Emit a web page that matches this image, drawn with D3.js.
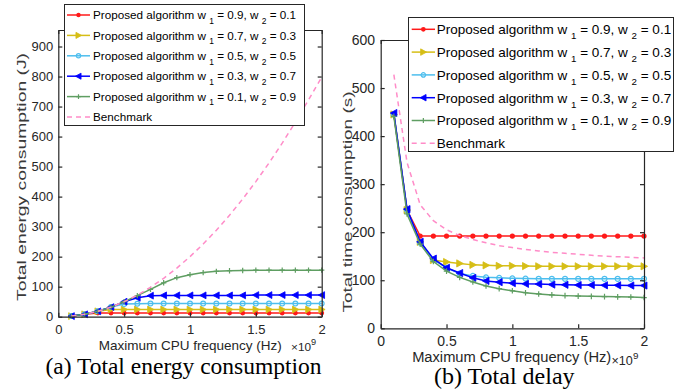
<!DOCTYPE html>
<html>
<head>
<meta charset="utf-8">
<script src="https://cdn.jsdelivr.net/npm/d3@7"></script>
<style>
  body { margin: 0; background: #fff; }
  svg { display: block; font-family: "Liberation Sans", Arial, Helvetica, sans-serif; }
  .axis path, .axis line { stroke: #262626; stroke-width: 1.2; }
  .axis text { fill: #262626; font-family: "Liberation Sans", Arial, sans-serif; }
</style>
</head>
<body>
<svg id="chart" width="694" height="391"></svg>
<script>
// CPU frequency (x 1e9 Hz)
const freq = [0.1, 0.2, 0.3, 0.4, 0.5, 0.6, 0.7, 0.8, 0.9, 1.0, 1.1, 1.2, 1.3, 1.4, 1.5, 1.6, 1.7, 1.8, 1.9, 2.0];

// (a) total energy consumption (J)
const energyW91 = [2, 8, 12, 12, 12, 12, 12, 12, 12, 12, 12, 12, 12, 12, 12, 12, 12, 12, 12, 12];
const energyW73 = [2, 8, 18, 24, 24, 24, 24, 24, 24, 24, 24, 24, 24, 24, 24, 24, 24, 24, 24, 24];
const energyW55 = [2, 8, 18, 32, 42, 43, 44, 44, 44, 44, 44, 44, 44, 44, 44, 44, 44, 44, 44, 44];
const energyW37 = [2, 8, 18, 32, 50, 63, 70, 71, 71, 71, 71, 71, 71, 71, 72, 72, 72, 72, 72, 72];
const energyW19 = [2, 8, 18, 32, 50, 70, 91, 113, 130, 140, 147, 151, 153, 154, 155, 155, 155, 155, 155, 155];
const energyBench = [2, 8, 18, 32, 50, 72, 98, 128, 162, 200, 242, 288, 338, 392, 450, 512, 578, 648, 722, 798];

// (b) total delay (s)
const delayW91 = [445, 246, 192, 192, 192, 192, 192, 192, 192, 192, 192, 192, 192, 192, 192, 192, 192, 192, 192, 192];
const delayW73 = [445, 246, 180, 142, 138, 135, 132, 131, 130, 130, 129.5, 129, 129, 129, 129, 129, 129, 129, 129, 129];
const delayW55 = [445, 246, 178, 143, 126, 114, 109, 106, 105, 104, 103.5, 103, 103, 103, 103, 103, 103, 103, 103, 103];
const delayW37 = [448, 248, 180, 145, 126, 115, 105, 98.5, 96, 94, 92.5, 92, 91, 90.5, 90, 90, 89.5, 89.5, 89, 89];
const delayW19 = [441, 238, 175, 139, 119, 106, 96.5, 88, 82.5, 78, 74, 71.5, 69.5, 68, 67, 66.5, 66, 65.5, 65, 64];
const delayBench = [528, 345, 257, 224, 205, 193, 185, 178, 172, 168, 164, 161, 158, 156, 154, 152, 150, 149, 147.5, 146.5];

const w1Values = ["0.9", "0.7", "0.5", "0.3", "0.1"];
const w2Values = ["0.1", "0.3", "0.5", "0.7", "0.9"];
const seriesColors = ["#ff1a1a", "#d6be16", "#4dbeee", "#0000ff", "#5f9e62", "#ff8cc8"];
const seriesMarkers = ["dot", "triRight", "circle", "triLeft", "plus", null];

const xTicks = [0, 0.5, 1, 1.5, 2];
const xTickLabels = ["0", "0.5", "1", "1.5", "2"];
const energyTicks = [0, 100, 200, 300, 400, 500, 600, 700, 800, 900];
const delayTicks = [0, 100, 200, 300, 400, 500, 600];

const svg = d3.select("#chart");

function marker(g, type, color, s) {
    if (type === "dot") {
        g.append("circle").attr("r", 2.6 * s).attr("fill", color);
    } else if (type === "circle") {
        g.append("circle").attr("r", 2.5 * s).attr("fill", "none").attr("stroke", color).attr("stroke-width", 1.2);
    } else if (type === "triRight") {
        g.append("path").attr("d", `M${-3 * s},${-3.6 * s}L${3.6 * s},0L${-3 * s},${3.6 * s}Z`)
            .attr("fill", color).attr("stroke", color).attr("stroke-width", 0.8);
    } else if (type === "triLeft") {
        g.append("path").attr("d", `M${3 * s},${-3.6 * s}L${-3.6 * s},0L${3 * s},${3.6 * s}Z`)
            .attr("fill", color).attr("stroke", color).attr("stroke-width", 0.8);
    } else if (type === "plus") {
        g.append("path").attr("d", `M${-2.8 * s},0H${2.8 * s}M0,${-2.8 * s}V${2.8 * s}`)
            .attr("stroke", color).attr("stroke-width", 1.2);
    }
}

function drawPanel(p) {
    const x = d3.scaleLinear().domain([0, 2]).range([p.left, p.right]);
    const y = d3.scaleLinear().domain([0, p.yMax]).range([p.bottom, p.top]);
    const g = svg.append("g");

    // series
    p.series.forEach((vals, i) => {
        const color = seriesColors[i];
        const line = d3.line().x((d, j) => x(freq[j])).y(d => y(d));
        g.append("path").datum(vals)
            .attr("fill", "none").attr("stroke", color)
            .attr("stroke-width", 1.5)
            .attr("stroke-dasharray", seriesMarkers[i] ? null : "5,4")
            .attr("d", line);
        if (seriesMarkers[i]) {
            vals.forEach((v, j) => {
                const m = g.append("g").attr("transform", `translate(${x(freq[j])},${y(v)})`);
                marker(m, seriesMarkers[i], color, p.markerScale);
            });
        }
    });

    // axes with inward ticks
    g.append("g").attr("class", "axis")
        .attr("transform", `translate(0,${p.bottom})`)
        .style("font-size", p.tickFont + "px")
        .call(d3.axisBottom(x).tickValues(xTicks).tickFormat((d, i) => xTickLabels[i])
            .tickSize(-4).tickSizeOuter(0).tickPadding(p.xPad));
    g.append("g").attr("class", "axis")
        .attr("transform", `translate(0,${p.top})`)
        .call(d3.axisTop(x).tickValues(xTicks).tickFormat("").tickSize(-4).tickSizeOuter(0));
    g.append("g").attr("class", "axis")
        .attr("transform", `translate(${p.left},0)`)
        .style("font-size", p.tickFont + "px")
        .call(d3.axisLeft(y).tickValues(p.yTicks).tickSize(-4).tickSizeOuter(0).tickPadding(p.yPad));
    g.append("g").attr("class", "axis")
        .attr("transform", `translate(${p.right},0)`)
        .call(d3.axisRight(y).tickValues(p.yTicks).tickFormat("").tickSize(-4).tickSizeOuter(0));
    g.selectAll(".axis .domain").attr("stroke", "#262626");

    // axis labels
    g.append("text")
        .attr("x", p.xLabel.x).attr("y", p.xLabel.y)
        .attr("text-anchor", "middle").attr("fill", "#262626")
        .style("font-size", p.xLabel.size + "px")
        .text("Maximum CPU frequency (Hz)");
    const exp = g.append("text")
        .attr("x", p.exp.x).attr("y", p.exp.y)
        .attr("fill", "#262626").style("font-size", p.exp.size + "px");
    exp.append("tspan").text("\u00d710");
    exp.append("tspan").attr("dy", -6).style("font-size", (p.exp.size * 0.78) + "px").text("9");

    g.append("text")
        .attr("transform", `translate(${p.yLabel.x},${p.yLabel.y}) rotate(-90)`)
        .attr("text-anchor", "middle").attr("fill", "#3a3a3a")
        .attr("textLength", p.yLabel.len).attr("lengthAdjust", "spacingAndGlyphs")
        .style("font-size", p.yLabel.size + "px")
        .text(p.yLabel.text);

    // legend
    const L = p.legend;
    const lg = g.append("g");
    lg.append("rect")
        .attr("x", L.x0 + 0.5).attr("y", L.y0 + 0.5)
        .attr("width", L.x1 - L.x0).attr("height", L.y1 - L.y0)
        .attr("fill", "#fff").attr("stroke", "#262626").attr("stroke-width", 1);
    seriesColors.forEach((color, i) => {
        const cy = L.firstRow + i * L.rowGap;
        lg.append("line")
            .attr("x1", L.lineX0).attr("x2", L.lineX1).attr("y1", cy).attr("y2", cy)
            .attr("stroke", color).attr("stroke-width", 1.5)
            .attr("stroke-dasharray", seriesMarkers[i] ? null : "5,4");
        if (seriesMarkers[i]) {
            const m = lg.append("g").attr("transform", `translate(${(L.lineX0 + L.lineX1) / 2},${cy})`);
            marker(m, seriesMarkers[i], color, L.markerScale);
        }
        const t = lg.append("text")
            .attr("x", L.textX).attr("y", cy + L.size * 0.36)
            .attr("fill", "#000").style("font-size", L.size + "px");
        if (i < 5) {
            const sub = L.size * 0.72;
            t.append("tspan").text("Proposed algorithm w\u00a0");
            t.append("tspan").attr("dy", L.subDy).style("font-size", sub + "px").text("1");
            t.append("tspan").attr("dy", -L.subDy).text(`\u00a0= ${w1Values[i]}, w\u00a0`);
            t.append("tspan").attr("dy", L.subDy).style("font-size", sub + "px").text("2");
            t.append("tspan").attr("dy", -L.subDy).text(`\u00a0= ${w2Values[i]}`);
        } else {
            t.text("Benchmark");
        }
    });

    // caption
    svg.append("text")
        .attr("x", p.caption.x).attr("y", p.caption.y)
        .attr("text-anchor", "middle")
        .style("font-family", "'Liberation Serif', 'Times New Roman', serif")
        .style("font-size", p.caption.size + "px")
        .text(p.caption.text);
}

drawPanel({
    left: 58.3, right: 321.7, top: 30, bottom: 316.7, yMax: 955,
    yTicks: energyTicks, tickFont: 13, xPad: 8.5, yPad: 5,
    markerScale: 0.95,
    series: [energyW91, energyW73, energyW55, energyW37, energyW19, energyBench],
    xLabel: {x: 190.3, y: 350, size: 13.5},
    exp: {x: 291, y: 350.5, size: 11.8},
    yLabel: {x: 26, y: 177, size: 13, len: 248, text: "Total energy consumption (J)"},
    legend: {x0: 64, x1: 304, y0: 4, y1: 125, firstRow: 15, rowGap: 20.4,
             lineX0: 67, lineX1: 90, textX: 93, size: 11.7, subDy: 4.5, markerScale: 0.85},
    caption: {x: 183.5, y: 374, size: 23.5, text: "(a) Total energy consumption"}
});

drawPanel({
    left: 380.7, right: 644, top: 40, bottom: 328.3, yMax: 600,
    yTicks: delayTicks, tickFont: 14, xPad: 7.4, yPad: 5.7,
    markerScale: 1,
    series: [delayW91, delayW73, delayW55, delayW37, delayW19, delayBench],
    xLabel: {x: 511.7, y: 362, size: 14.7},
    exp: {x: 611.5, y: 365, size: 12.6},
    yLabel: {x: 352, y: 202, size: 13.5, len: 221, text: "Total time consumption (s)"},
    legend: {x0: 408, x1: 673, y0: 17, y1: 151, firstRow: 29.3, rowGap: 22.8,
             lineX0: 411.7, lineX1: 435, textX: 436.7, size: 13.5, subDy: 5, markerScale: 0.9},
    caption: {x: 504.3, y: 384, size: 24, text: "(b) Total delay"}
});
</script>
</body>
</html>
